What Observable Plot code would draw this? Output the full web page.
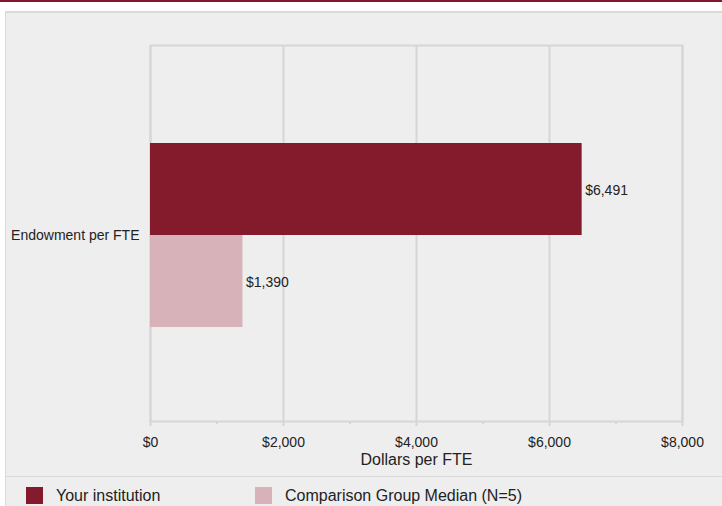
<!DOCTYPE html>
<html>
<head>
<meta charset="utf-8">
<script src="https://cdn.jsdelivr.net/npm/d3@7"></script>
<script src="https://cdn.jsdelivr.net/npm/@observablehq/plot@0.6"></script>
<style>
  html, body { margin: 0; padding: 0; background: #fff; width: 722px; height: 506px; overflow: hidden; font-family: "Liberation Sans", Arial, sans-serif; }
  #topbar { position: absolute; left: 0; top: 0; width: 722px; height: 2px; background: #7f1a2c; }
  #panel { position: absolute; left: 5px; top: 11px; width: 716px; height: 500px; background: #eeeeee; border-top: 2px solid #d9d9d9; border-left: 1px solid #d9d9d9; }
  #chart svg { display: block; }
  #legend { border-top: 1px solid #d9d9d9; position: relative; height: 40px; }
  .item { position: absolute; top: 10px; display: flex; align-items: flex-start; font-size: 16px; color: #222; }
  .sw { width: 17px; height: 17px; margin-right: 13px; }
  .item span.t { line-height: 18px; margin-top: 0px; }
</style>
</head>
<body>
<div id="topbar"></div>
<div id="panel">
  <div id="chart"></div>
  <div id="legend"></div>
</div>
<script>
const categories = ["Endowment per FTE"];
const series = ["Your institution", "Comparison Group Median (N=5)"];
const values = [6491, 1390];
const colors = ["#841b2d", "#d7b2b8"];
const xTicks = [0, 2000, 4000, 6000, 8000];
const xMinorTicks = [1000, 3000, 5000, 7000];
const xLabel = "Dollars per FTE";

const data = series.map((s, i) => ({category: categories[0], series: s, value: values[i]}));
const fmt = d3.format("$,");

const chart = Plot.plot({
  width: 715,
  height: 463,
  marginLeft: 144,
  marginRight: 39,
  marginTop: 32,
  marginBottom: 55,
  style: {background: "transparent", fontFamily: "'Liberation Sans', Arial, sans-serif", fontSize: "14px", color: "#222"},
  x: {domain: [0, 8000]},
  y: {domain: series, axis: null, paddingInner: 0, paddingOuter: 1.03, align: 0.51},
  color: {domain: series, range: colors},
  marks: [
    Plot.gridX(xTicks, {stroke: "#d6d6d6", strokeWidth: 2, strokeOpacity: 1}),
    Plot.frame({stroke: "#d6d6d6", strokeWidth: 2}),
    Plot.barX(data, {x: "value", y: "series", fill: "series"}),
    Plot.text(data, {x: "value", y: "series", text: d => fmt(d.value), textAnchor: "start", dx: 3, dy: 1, fill: "#222", fontSize: 14}),
    Plot.axisX({ticks: xTicks, tickFormat: fmt, tickSize: 5, tickPadding: 11, stroke: "#d6d6d6", strokeWidth: 2, fill: "#222", fontSize: 14, label: null}),
    Plot.axisX({ticks: xMinorTicks, tickFormat: () => "", tickSize: 3, stroke: "#d6d6d6", strokeWidth: 2, label: null}),
    Plot.text(categories, {frameAnchor: "left", text: d => d, textAnchor: "end", dx: -11, dy: 2, fill: "#222", fontSize: 14}),
    Plot.text([xLabel], {frameAnchor: "bottom", text: d => d, dy: 43, fill: "#222", fontSize: 16})
  ]
});
document.getElementById("chart").appendChild(chart);

const legend = document.getElementById("legend");
const lefts = [20, 249];
series.forEach((s, i) => {
  const it = document.createElement("div");
  it.className = "item";
  it.style.left = lefts[i] + "px";
  it.innerHTML = `<div class="sw" style="background:${colors[i]}"></div><span class="t">${s}</span>`;
  legend.appendChild(it);
});
</script>
</body>
</html>
